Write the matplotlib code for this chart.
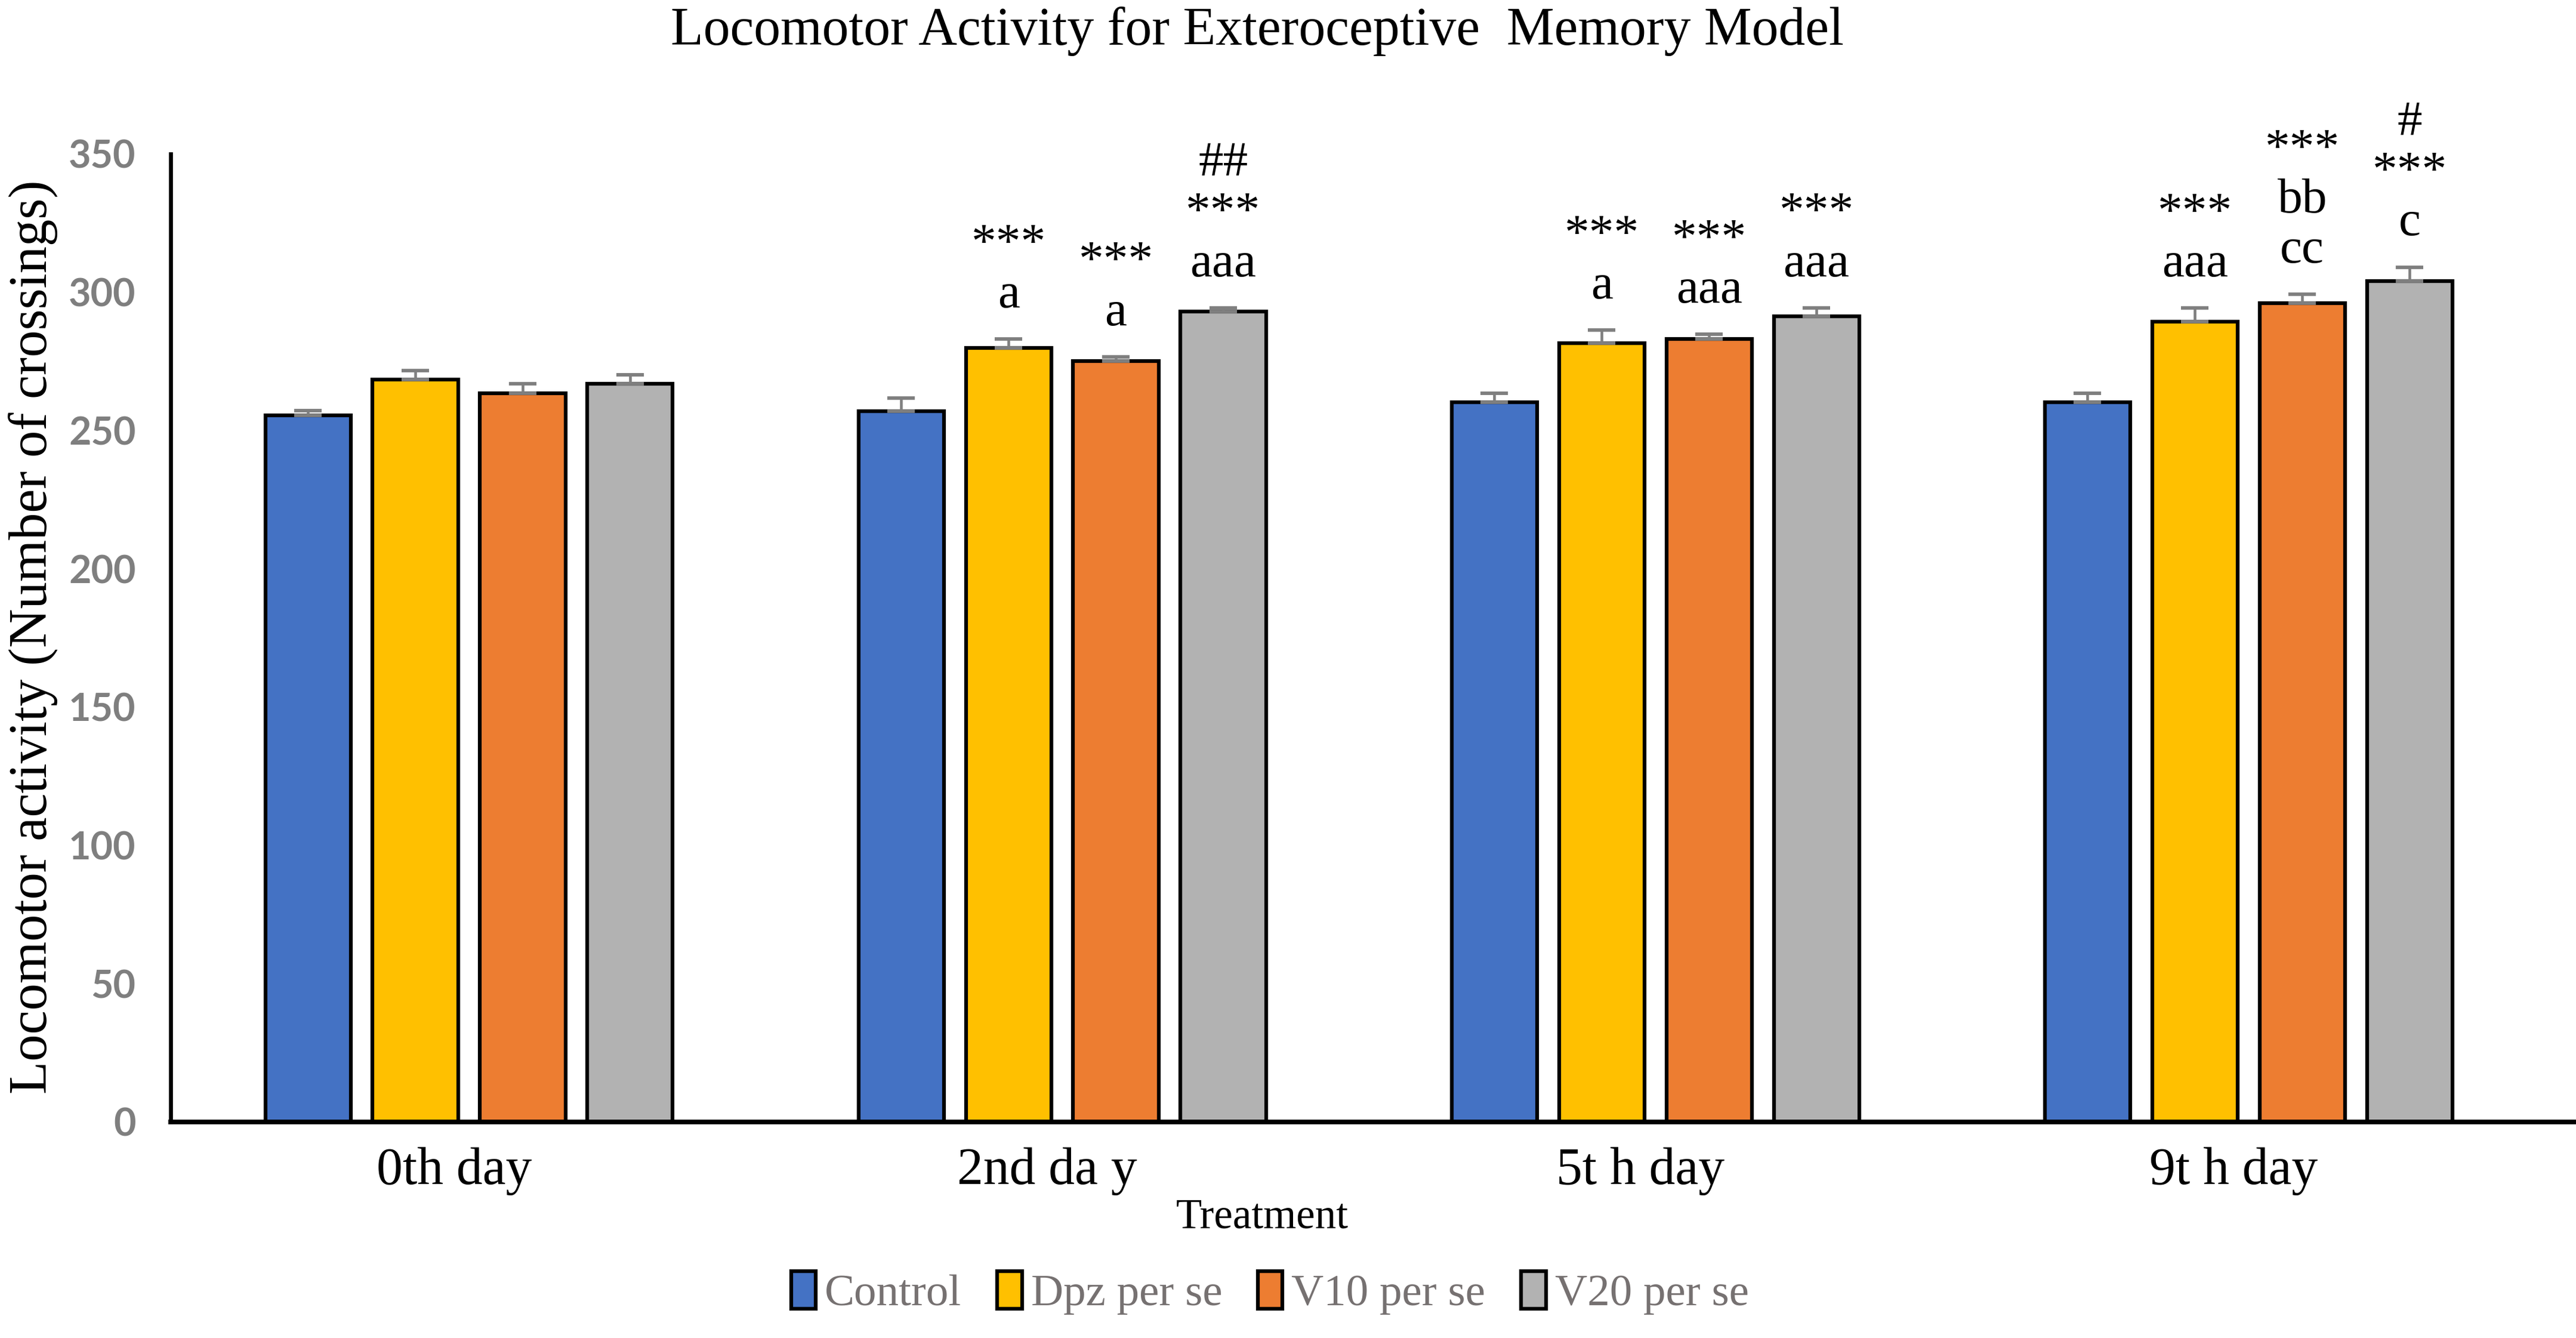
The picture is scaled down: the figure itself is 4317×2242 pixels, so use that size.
import numpy as np
import matplotlib
matplotlib.use("Agg")
import matplotlib.pyplot as plt
import matplotlib.transforms as mtransforms
from matplotlib.patches import Patch

days = ["0th day", "2nd da y", "5t h day", "9t h day"]
groups = ["Control", "Dpz per se", "V10 per se", "V20 per se"]

control = [255.4, 256.9, 260.3, 260.1]
dpz = [268.4, 279.8, 281.5, 289.4]
v10 = [263.5, 275.0, 283.0, 296.1]
v20 = [266.8, 292.9, 291.3, 304.1]

control_err = [1.7, 4.8, 3.2, 3.3]
dpz_err = [3.3, 3.2, 4.8, 4.8]
v10_err = [3.3, 1.6, 1.7, 3.1]
v20_err = [3.3, 1.4, 3.0, 4.9]

# significance marks above each bar
control_sig = ["", "", "", ""]
dpz_sig = ["", "***\na", "***\na", "***\naaa"]
v10_sig = ["", "***\na", "***\naaa", "***\nbb\ncc"]
v20_sig = ["", "##\n***\naaa", "***\naaa", "#\n***\nc"]

colors = ["#4472C4", "#FFC000", "#ED7D31", "#B2B2B2"]

values = [control, dpz, v10, v20]
errors = [control_err, dpz_err, v10_err, v20_err]
sigs = [control_sig, dpz_sig, v10_sig, v20_sig]

plt.rcParams["font.family"] = ["Liberation Serif", "DejaVu Serif"]

fig = plt.figure(figsize=(4317 / 300, 2242 / 300), dpi=300)
ax = fig.add_axes([286 / 4317, 0.1615, 1 - 286 / 4317, 0.885 - 0.1615])

x = np.arange(len(days))
step = 0.181
width = 0.144

for i in range(len(groups)):
    xs = x + (i - 1.5) * step
    ax.bar(xs, values[i], width, color=colors[i], edgecolor="black",
           linewidth=1.5, zorder=2,
           yerr=[np.zeros(len(days)), errors[i]],
           error_kw=dict(ecolor="#7F7F7F", elinewidth=1.1, capsize=5.5,
                         capthick=1.4, zorder=3))
    for j in range(len(days)):
        if sigs[i][j]:
            ax.annotate(sigs[i][j], (xs[j], values[i][j] + errors[i][j]),
                        xytext=(0, 8.5), textcoords="offset points",
                        ha="center", va="bottom", multialignment="center",
                        linespacing=1.15, fontsize=20, color="black")

ax.set_xlim(-0.503, 3.552)
ax.set_ylim(0, 350)
ax.set_yticks(range(0, 351, 50))
ax.set_yticklabels([str(v) for v in range(0, 351, 50)], fontsize=15.5,
                   fontweight="bold", color="#7F7F7F", family="Lato")
ax.tick_params(axis="y", length=0, pad=14)
ax.set_xticks(x)
ax.set_xticklabels(days, fontsize=21)
ax.tick_params(axis="x", length=0, pad=10)
shift = mtransforms.ScaledTranslation(-6 / 72, 0, fig.dpi_scale_trans)
for lab in ax.get_xticklabels():
    lab.set_transform(lab.get_transform() + shift)

for s in ["top", "right"]:
    ax.spines[s].set_visible(False)
ax.spines["left"].set_linewidth(1.6)
ax.spines["bottom"].set_linewidth(1.9)
ax.spines["bottom"].set_zorder(4)

fig.text(0.0127, 0.524, "Locomotor activity (Number of crossings)",
         rotation=90, ha="center", va="center", fontsize=21.7)
fig.text(0.488, 0.9765, "Locomotor Activity for Exteroceptive  Memory Model",
         ha="center", va="center", fontsize=21.5)
fig.text(0.49, 0.09, "Treatment", ha="center", va="center", fontsize=17)

handles = [Patch(facecolor=c, edgecolor="black", linewidth=1.5) for c in colors]
leg = fig.legend(handles, groups, loc="center", bbox_to_anchor=(0.493, 0.0335),
                 ncol=4, frameon=False, fontsize=18, handlelength=0.55,
                 handleheight=0.9, handletextpad=0.2, columnspacing=0.8)
for t in leg.get_texts():
    t.set_color("#767171")

fig.savefig("out.png", dpi=300)
